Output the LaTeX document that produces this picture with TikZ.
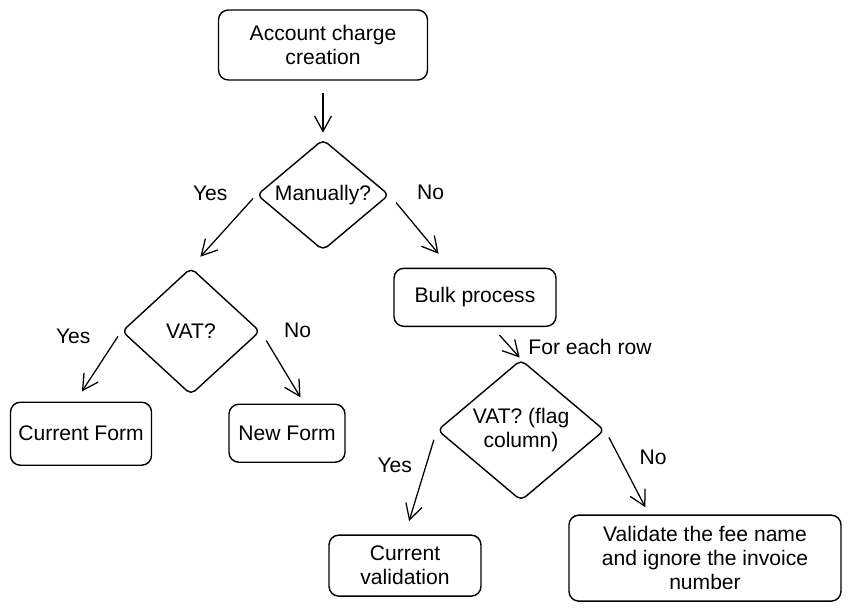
\documentclass[tikz,border=0pt]{standalone}
\usepackage{fontspec}
\setmainfont{Liberation Sans}
\usetikzlibrary{shapes.geometric, positioning, arrows.meta}
\tikzstyle{process} = [
    rectangle, draw, line width=1pt, rounded corners=7pt,
    align=center, text centered
]
\tikzstyle{decision} = [
    diamond, draw, line width=1pt, rounded corners=4pt,
    inner sep=0pt, aspect=1.3, align=center % text close to the edges
]
\tikzstyle{flow} = [
    draw, line width=0.9pt, -{Straight Barb[length=11pt,width=12pt]}
]
\begin{document}
\begin{tikzpicture}[node distance=1cm, font=\fontsize{15}{17}\selectfont]
        \useasboundingbox (0,0) rectangle (21.3,-15.275);

        % Start
        \node[process, minimum width=5.225cm, minimum height=1.75cm] (creation) at (8.075,-1.125) {Account charge\\creation};

        % First question
        \node[decision, minimum width=3.3cm, minimum height=2.775cm] (manual) [below=1.45cm of creation] {Manually?};

        % Manual branch
        \node[decision, minimum width=3.45cm, minimum height=3.175cm] (vat) [below=0.4cm of manual, xshift=-3.3cm] {VAT?};
        \node[process, minimum width=3.525cm, minimum height=1.575cm] (curform) [below=0.15cm of vat, xshift=-2.75cm] {Current Form};
        \node[process, minimum width=2.9cm, minimum height=1.45cm] (newform) [below=0.2cm of vat, xshift=2.4cm] {New Form};

        % Bulk branch
        \node[process, minimum width=4.05cm, minimum height=1.45cm] (bulk) [below=0.4125cm of manual, xshift=3.8cm] {Bulk process};
        \node[decision, minimum width=4.175cm, minimum height=3.525cm] (vatflag) [below=0.8cm of bulk, xshift=1.15cm] {VAT? (flag\\column)};
        \node[process, minimum width=3.8cm, minimum height=1.525cm] (curval) [below=0.825cm of vatflag, xshift=-2.9cm] {Current\\validation};
        \node[process, minimum width=6.8cm, minimum height=2.15cm] (validate) [below=0.325cm of vatflag, xshift=4.6cm] {Validate the fee name\\and ignore the invoice\\number};

        % Arrows with their labels
        \draw[flow, shorten <=0.3cm, shorten >=0.15cm] (creation) -- (manual);
        \draw[flow, shorten <=0.12cm, shorten >=0.35cm] (manual.west) -- (vat.north)
            node[at start, xshift=-1.15cm, yshift=0.05cm] (yesmanual) {Yes};
        \draw[flow, shorten <=0.25cm, shorten >=0.45cm] (manual.east) -- (bulk.130)
            node[at start, xshift=1.025cm, yshift=0.075cm] (nomanual) {No};
        \draw[flow, shorten <=0.15cm, shorten >=0.3cm] (vat.west) -- (curform.100)
            node[at start, xshift=-1.2cm, yshift=-0.125cm] (yesvat) {Yes};
        \draw[flow, shorten <=0.27cm, shorten >=0.18cm] (vat.east) -- (newform.60)
            node[at start, xshift=0.925cm, yshift=0.025cm] (novat) {No};
        \draw[flow, shorten <=0.27cm, shorten >=0.05cm] (bulk.-60) -- (vatflag.north)
            node[at start, anchor=west, xshift=0.775cm, yshift=-0.5cm] (eachrow) {For each row};
        \draw[flow, shorten <=0.25cm, shorten >=0.35cm] (vatflag.west) -- (curval.north)
            node[at start, xshift=-1.05cm, yshift=-0.875cm] (yesflag) {Yes};
        \draw[flow, shorten <=0.2cm, shorten >=0.2cm] (vatflag.east) -- (validate.142)
            node[at start, xshift=1.2cm, yshift=-0.675cm] (noflag) {No};

    \end{tikzpicture}
\end{document}
